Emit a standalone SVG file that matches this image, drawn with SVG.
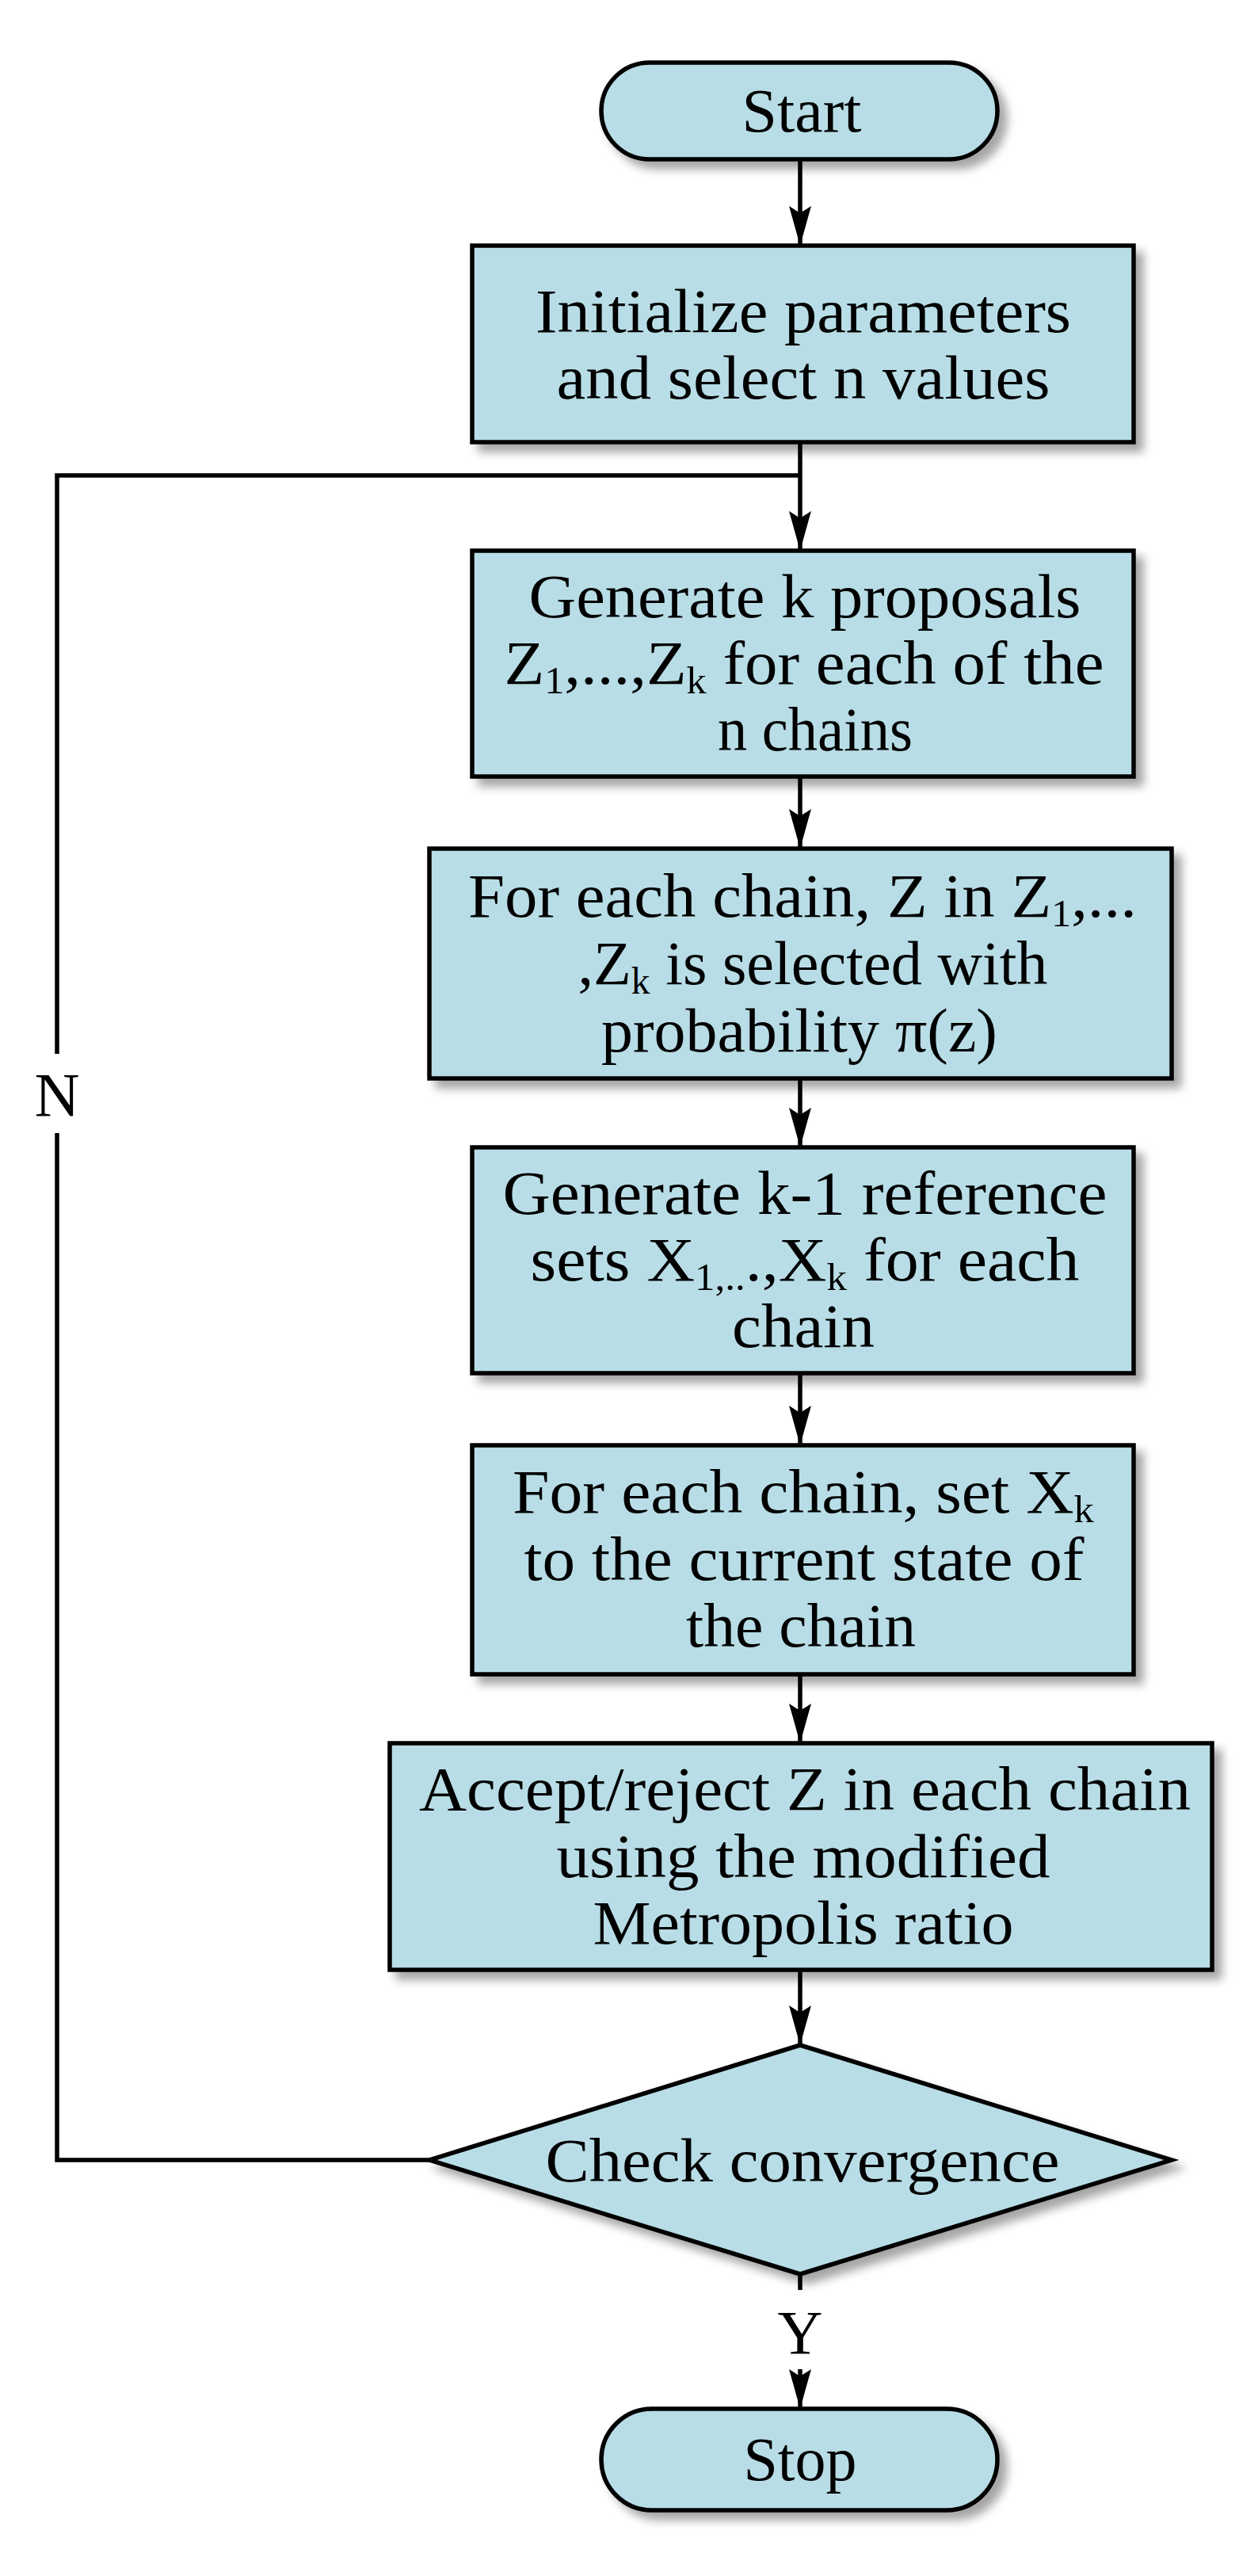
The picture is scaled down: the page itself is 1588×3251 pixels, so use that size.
<svg xmlns="http://www.w3.org/2000/svg" width="1588" height="3251" viewBox="0 0 1588 3251">
<style>
.n{fill:#b8dde6;stroke:#000;stroke-width:5.5;filter:url(#sh)}
.t{font-family:"Liberation Serif","Times New Roman",serif;font-size:79px;fill:#000;text-anchor:middle}
.s{font-size:48px}
.c{fill:none;stroke:#000;stroke-width:5.5}
</style>
<defs>
<filter id="sh" x="-10%" y="-10%" width="130%" height="140%"><feDropShadow dx="10" dy="10" stdDeviation="6" flood-color="#000" flood-opacity="0.35"/></filter>
<marker id="a" markerWidth="50" markerHeight="28" refX="50" refY="14" orient="auto" markerUnits="userSpaceOnUse" viewBox="0 0 50 28"><path d="M0,0 L50,14 L0,28 L9,14 Z" fill="#000"/></marker>
</defs>
<g id="connectors">
<line class="c" x1="1010" y1="201" x2="1010" y2="310" marker-end="url(#a)"/>
<line class="c" x1="1010" y1="558" x2="1010" y2="695" marker-end="url(#a)"/>
<polyline class="c" points="542,2726 72,2726 72,600 1010,600"/>
<line class="c" x1="1010" y1="980" x2="1010" y2="1071" marker-end="url(#a)"/>
<line class="c" x1="1010" y1="1361" x2="1010" y2="1448" marker-end="url(#a)"/>
<line class="c" x1="1010" y1="1733" x2="1010" y2="1824" marker-end="url(#a)"/>
<line class="c" x1="1010" y1="2113" x2="1010" y2="2200" marker-end="url(#a)"/>
<line class="c" x1="1010" y1="2486" x2="1010" y2="2581" marker-end="url(#a)"/>
<line class="c" x1="1010" y1="2870" x2="1010" y2="3040" marker-end="url(#a)"/>
<rect x="40" y="1330" width="64" height="100" fill="#fff"/>
<text class="t" x="72" y="1408">N</text>
<rect x="980" y="2890" width="60" height="100" fill="#fff"/>
<text class="t" x="1010" y="2970">Y</text>
</g>
<g id="start"><rect class="n" x="759" y="79" width="500" height="122" rx="61"/><text class="t" x="1012" y="166" textLength="151" lengthAdjust="spacingAndGlyphs">Start</text></g>
<g id="init"><rect class="n" x="596" y="310" width="835" height="248"/>
<text class="t" x="1014" y="419" textLength="676" lengthAdjust="spacingAndGlyphs">Initialize parameters</text>
<text class="t" x="1014" y="503" textLength="623" lengthAdjust="spacingAndGlyphs">and select n values</text></g>
<g id="gen"><rect class="n" x="596" y="695" width="835" height="285"/>
<text class="t" x="1016" y="779" textLength="697" lengthAdjust="spacingAndGlyphs">Generate k proposals</text>
<text class="t" x="1015" y="863" textLength="757" lengthAdjust="spacingAndGlyphs">Z<tspan class="s" dy="12">1</tspan><tspan dy="-12">,...,Z</tspan><tspan class="s" dy="12">k</tspan><tspan dy="-12"> for each of the</tspan></text>
<text class="t" x="1029" y="947" textLength="246" lengthAdjust="spacingAndGlyphs">n chains</text></g>
<g id="select"><rect class="n" x="542" y="1071" width="937" height="290"/>
<text class="t" x="1013" y="1157" textLength="844" lengthAdjust="spacingAndGlyphs">For each chain, Z in Z<tspan class="s" dy="12">1</tspan><tspan dy="-12">,...</tspan></text>
<text class="t" x="1026" y="1242" textLength="593" lengthAdjust="spacingAndGlyphs">,Z<tspan class="s" dy="12">k</tspan><tspan dy="-12"> is selected with</tspan></text>
<text class="t" x="1009" y="1327" textLength="500" lengthAdjust="spacingAndGlyphs">probability π(z)</text></g>
<g id="ref"><rect class="n" x="596" y="1448" width="835" height="285"/>
<text class="t" x="1016" y="1532" textLength="763" lengthAdjust="spacingAndGlyphs">Generate k-1 reference</text>
<text class="t" x="1016" y="1616" textLength="693" lengthAdjust="spacingAndGlyphs">sets X<tspan class="s" dy="12">1,..</tspan><tspan dy="-12">.,X</tspan><tspan class="s" dy="12">k</tspan><tspan dy="-12"> for each</tspan></text>
<text class="t" x="1014" y="1700" textLength="180" lengthAdjust="spacingAndGlyphs">chain</text></g>
<g id="setx"><rect class="n" x="596" y="1824" width="835" height="289"/>
<text class="t" x="1014" y="1909" textLength="734" lengthAdjust="spacingAndGlyphs">For each chain, set X<tspan class="s" dy="12">k</tspan></text>
<text class="t" x="1015" y="1994" textLength="707" lengthAdjust="spacingAndGlyphs">to the current state of</text>
<text class="t" x="1011" y="2078" textLength="290" lengthAdjust="spacingAndGlyphs">the chain</text></g>
<g id="accept"><rect class="n" x="492" y="2200" width="1038" height="286"/>
<text class="t" x="1016" y="2284" textLength="974" lengthAdjust="spacingAndGlyphs">Accept/reject Z in each chain</text>
<text class="t" x="1014" y="2369" textLength="623" lengthAdjust="spacingAndGlyphs">using the modified</text>
<text class="t" x="1014" y="2453" textLength="531" lengthAdjust="spacingAndGlyphs">Metropolis ratio</text></g>
<g id="check"><polygon class="n" points="1010,2581 1479,2726 1010,2870 542,2726"/>
<text class="t" x="1013" y="2753" textLength="649" lengthAdjust="spacingAndGlyphs">Check convergence</text></g>
<g id="stop"><rect class="n" x="759" y="3040" width="500" height="128" rx="64"/><text class="t" x="1010" y="3130" textLength="143" lengthAdjust="spacingAndGlyphs">Stop</text></g>
</svg>
